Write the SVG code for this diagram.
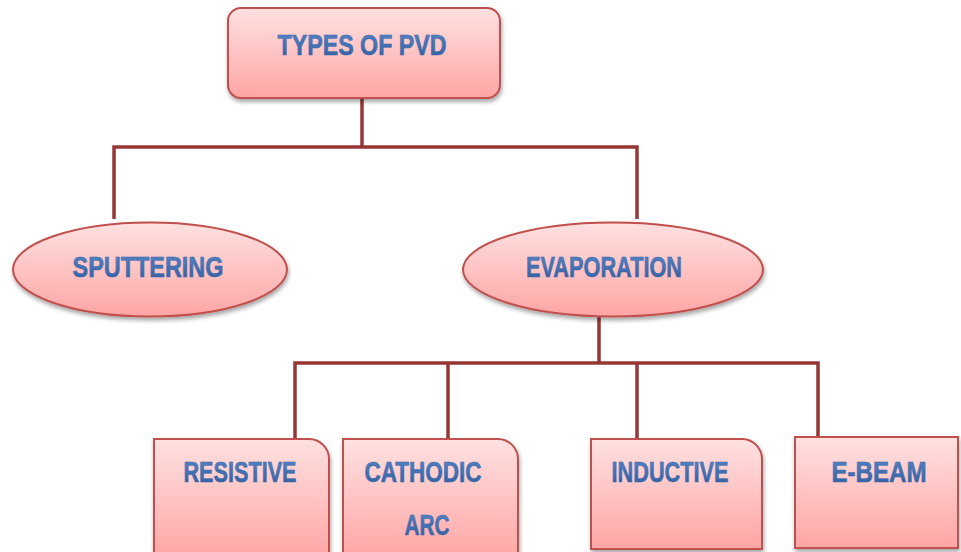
<svg xmlns="http://www.w3.org/2000/svg" width="961" height="552" viewBox="0 0 961 552">
<defs>
<linearGradient id="fillg" x1="0" y1="0" x2="0" y2="1">
<stop offset="0" stop-color="#FFE1E1"/>
<stop offset="1" stop-color="#FFA5A5"/>
</linearGradient>
<linearGradient id="txtg" x1="0" y1="0" x2="0" y2="1">
<stop offset="0" stop-color="#5A88C8"/>
<stop offset="1" stop-color="#2F5C9E"/>
</linearGradient>
<filter id="sh" x="-10%" y="-10%" width="130%" height="130%">
<feGaussianBlur in="SourceAlpha" stdDeviation="2"/>
<feOffset dx="1" dy="3"/>
<feComponentTransfer><feFuncA type="linear" slope="0.35"/></feComponentTransfer>
<feMerge><feMergeNode/><feMergeNode in="SourceGraphic"/></feMerge>
</filter>
</defs>
<style>
.shape{fill:url(#fillg);stroke:#C0504D;stroke-width:2;filter:url(#sh)}
.lbl{font-family:"Liberation Sans",Arial,sans-serif;font-weight:bold;font-size:30px;fill:url(#txtg);stroke:#3A67AA;stroke-width:0.6;text-anchor:middle}
.conn{fill:none;stroke:#953735;stroke-width:3.5}
</style>
<rect width="961" height="552" fill="#FFFFFF"/>
<g id="connectors">
<path class="conn" d="M362 99 V147 M114 219 V147 H637 V219"/>
<path class="conn" d="M599 317 V363 M295 439 V363 H818 V437 M448 363 V439 M637 363 V439"/>
</g>
<g id="types-of-pvd">
<rect class="shape" x="228" y="8" width="272" height="90" rx="13"/>
<text class="lbl" x="362" y="55" textLength="169" lengthAdjust="spacingAndGlyphs">TYPES OF PVD</text>
</g>
<g id="sputtering">
<ellipse class="shape" cx="150" cy="269.5" rx="137" ry="47"/>
<text class="lbl" x="148" y="277" textLength="151" lengthAdjust="spacingAndGlyphs">SPUTTERING</text>
</g>
<g id="evaporation">
<ellipse class="shape" cx="613" cy="269.5" rx="150" ry="47"/>
<text class="lbl" x="604" y="277" textLength="156" lengthAdjust="spacingAndGlyphs">EVAPORATION</text>
</g>
<g id="resistive">
<path class="shape" d="M154 439 H309 A20 20 0 0 1 329 459 V560 H154 Z"/>
<text class="lbl" x="240" y="482" textLength="113" lengthAdjust="spacingAndGlyphs">RESISTIVE</text>
</g>
<g id="cathodic-arc">
<path class="shape" d="M343 439 H498 A20 20 0 0 1 518 459 V560 H343 Z"/>
<text class="lbl" x="423" y="482" textLength="117" lengthAdjust="spacingAndGlyphs">CATHODIC</text>
<text class="lbl" x="427" y="535" textLength="45" lengthAdjust="spacingAndGlyphs">ARC</text>
</g>
<g id="inductive">
<path class="shape" d="M591 439 H742 A20 20 0 0 1 762 459 V549 H591 Z"/>
<text class="lbl" x="670" y="482" textLength="117" lengthAdjust="spacingAndGlyphs">INDUCTIVE</text>
</g>
<g id="e-beam">
<rect class="shape" x="795" y="437" width="163" height="111"/>
<text class="lbl" x="879" y="482" textLength="95" lengthAdjust="spacingAndGlyphs">E-BEAM</text>
</g>
</svg>
